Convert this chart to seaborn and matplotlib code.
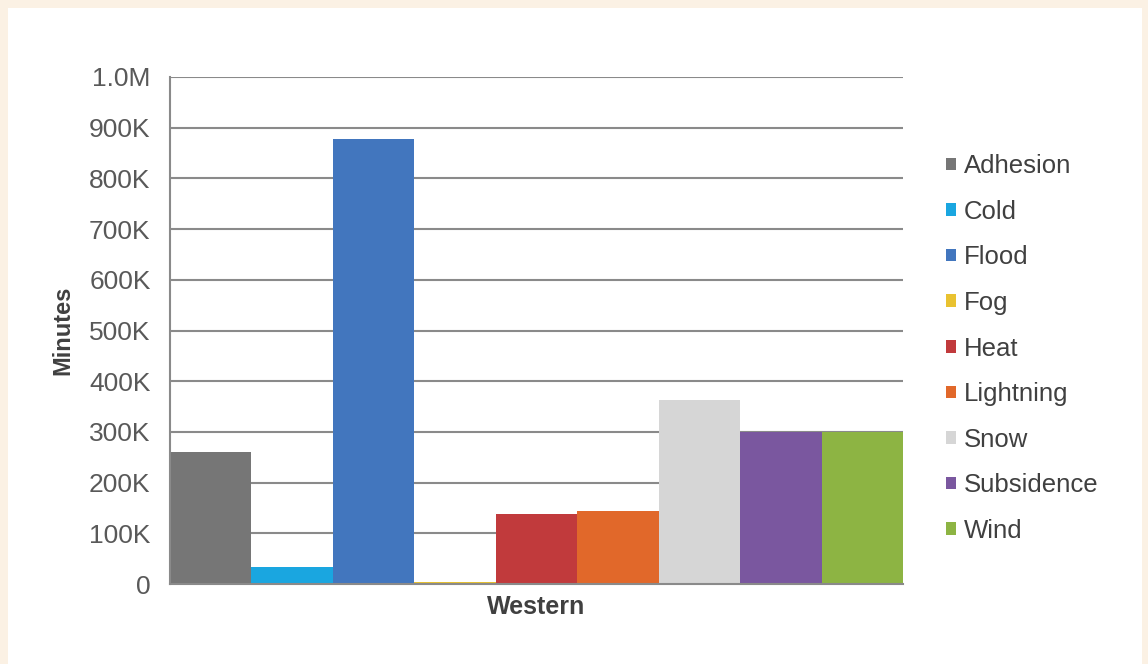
import matplotlib
matplotlib.use("Agg")
import matplotlib.pyplot as plt
import matplotlib.patches as mpatches
import seaborn as sns
import pandas as pd
from matplotlib.ticker import FixedLocator, FixedFormatter

# ---- data ----
region = ["Western"]
causes = ["Adhesion", "Cold", "Flood", "Fog", "Heat", "Lightning", "Snow", "Subsidence", "Wind"]
minutes = [261000, 34000, 877000, 3000, 138000, 143000, 362000, 300000, 300000]
colors = ["#767676", "#1AA6E0", "#4276BE", "#E9C230", "#C13A3C", "#E1682A", "#D6D6D6", "#7A579F", "#8DB443"]
ytick_values = [0, 100000, 200000, 300000, 400000, 500000, 600000, 700000, 800000, 900000, 1000000]
ytick_labels = ["0", "100K", "200K", "300K", "400K", "500K", "600K", "700K", "800K", "900K", "1.0M"]

df = pd.DataFrame({"Region": region * len(causes), "Cause": causes, "Minutes": minutes})

sns.set_theme(style="white")
plt.rcParams["font.family"] = ["Liberation Sans", "DejaVu Sans"]

W, H = 1148, 664
fig = plt.figure(figsize=(W / 100, H / 100), dpi=100, facecolor="#FBF1E4")
# white panel
fig.patches.append(mpatches.Rectangle((8 / W, 0), (1142 - 8) / W, (H - 8) / H,
                                      transform=fig.transFigure, facecolor="white",
                                      edgecolor="none", zorder=-10))

ax = fig.add_axes([170 / W, 1 - 584 / H, (903 - 170) / W, (584 - 77) / H])
ax.set_facecolor("white")

sns.barplot(data=df, x="Region", y="Minutes", hue="Cause", hue_order=causes,
            palette=colors, saturation=1, width=1.0, gap=0, linewidth=0,
            errorbar=None, ax=ax)

ax.set_xlim(-0.5, 0.5)
ax.set_ylim(0, 1000000)
ax.yaxis.set_major_locator(FixedLocator(ytick_values))
ax.yaxis.set_major_formatter(FixedFormatter(ytick_labels))
ax.set_axisbelow(True)
ax.grid(axis="y", color="#8A8A8A", linewidth=1.5)
ax.grid(axis="x", visible=False)

for s in ["top", "right"]:
    ax.spines[s].set_visible(False)
for s in ["left", "bottom"]:
    ax.spines[s].set_visible(True)
    ax.spines[s].set_color("#8A8A8A")
    ax.spines[s].set_linewidth(1.5)

ax.tick_params(axis="y", length=0, pad=14, labelsize=19, labelcolor="#595959")
ax.tick_params(axis="x", length=0, pad=8, labelsize=18, labelcolor="#404040")
for t in ax.get_xticklabels():
    t.set_fontweight("bold")

ax.set_xlabel("")
ax.set_ylabel("Minutes", fontsize=17, fontweight="bold", color="#404040")
ax.yaxis.set_label_coords((74 - 170) / (903 - 170), 0.5)

handles, labels = ax.get_legend_handles_labels()
ax.get_legend().remove()
leg = fig.legend(handles, labels, loc="center left",
                 bbox_to_anchor=(946 / W, 1 - 348.5 / H),
                 frameon=False, fontsize=18.5, labelcolor="#404040",
                 handlelength=0.38, handleheight=0.38, handletextpad=0.3,
                 labelspacing=0.84, borderpad=0, borderaxespad=0)

fig.savefig("out.png", dpi=100, facecolor=fig.get_facecolor())
